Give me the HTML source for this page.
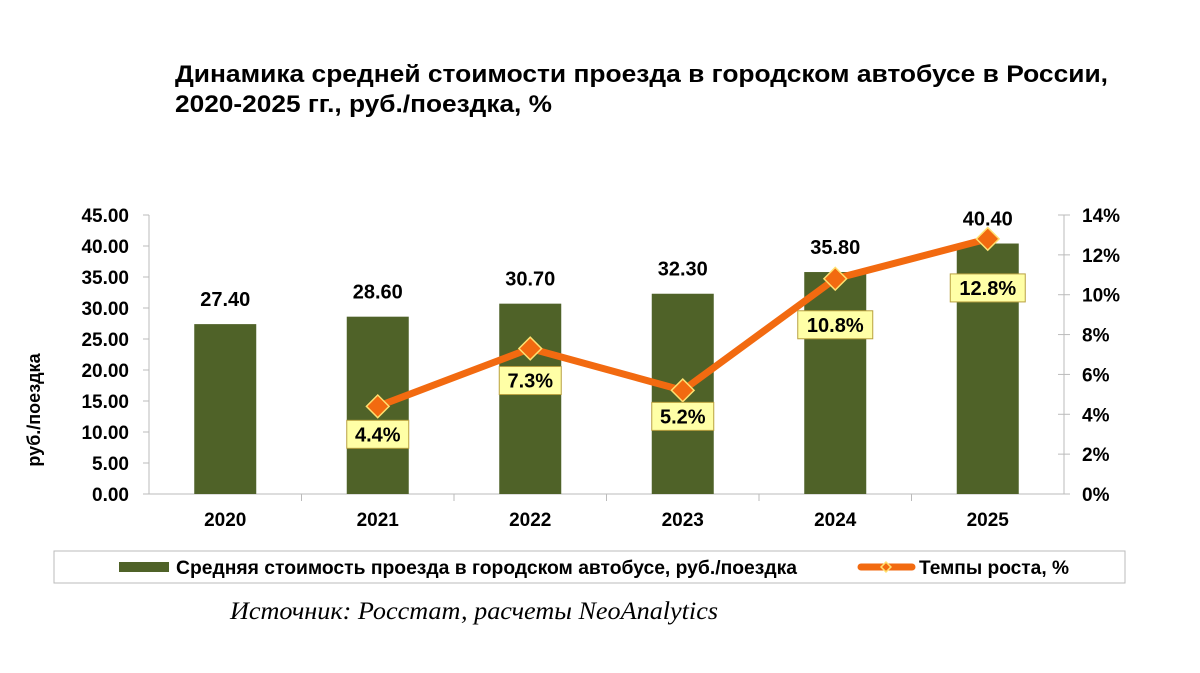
<!DOCTYPE html>
<html><head><meta charset="utf-8"><style>
body{margin:0;background:#fff;}
svg{display:block;font-family:"Liberation Sans",sans-serif;}
</style></head><body>
<svg id="c" width="1200" height="673">
<text x="175" y="82" font-size="24" font-weight="bold" fill="#000" textLength="933" lengthAdjust="spacingAndGlyphs">Динамика средней стоимости проезда в городском автобусе в России,</text>
<text x="175" y="112" font-size="24" font-weight="bold" fill="#000" textLength="377" lengthAdjust="spacingAndGlyphs">2020-2025 гг., руб./поездка, %</text>
<text transform="translate(40,410) rotate(-90)" text-anchor="middle" font-size="18" font-weight="bold">руб./поездка</text>
<g id="g"></g>
<rect x="54" y="551" width="1071" height="32" fill="#fff" stroke="#bbb"/>
<rect x="119" y="562" width="50" height="10" fill="#4f6228"/>
<text x="176" y="574" font-size="19" font-weight="bold" textLength="621" lengthAdjust="spacingAndGlyphs">Средняя стоимость проезда в городском автобусе, руб./поездка</text>
<line x1="861" y1="567" x2="912" y2="567" stroke="#f26a10" stroke-width="7" stroke-linecap="round"/>
<rect x="882.5" y="563.5" width="7" height="7" fill="#f26a10" stroke="#ffe070" stroke-width="1.5" transform="rotate(45 886 567)"/>
<text x="919" y="574" font-size="19" font-weight="bold" textLength="150" lengthAdjust="spacingAndGlyphs">Темпы роста, %</text>
<text x="230" y="619" font-size="25" font-style="italic" font-family="Liberation Serif,serif" textLength="488" lengthAdjust="spacingAndGlyphs">Источник: Росстат, расчеты NeoAnalytics</text>
</svg>
<script>
const categories=["2020","2021","2022","2023","2024","2025"];
const costValues=[27.4,28.6,30.7,32.3,35.8,40.4];
const growthValues=[null,4.4,7.3,5.2,10.8,12.8];
const leftTicks=[0,5,10,15,20,25,30,35,40,45];
const rightTicks=[0,2,4,6,8,10,12,14];
const labelOffsets=[0,28,32,26,46,49];
const NS="http://www.w3.org/2000/svg";
const g=document.getElementById('g');
const X0=149,X1=1064,Y0=494,Y1=215;
const step=(X1-X0)/categories.length;
const xc=i=>X0+step*(i+0.5);
const yL=v=>Y0-(v/45)*(Y0-Y1);
const yR=v=>Y0-(v/14)*(Y0-Y1);
function mk(t,a,txt){const e=document.createElementNS(NS,t);for(const k in a)e.setAttribute(k,a[k]);if(txt!==undefined)e.textContent=txt;g.appendChild(e);return e;}
let e;
e=mk('line',{x1:X0,y1:Y1,x2:X0,y2:Y0,stroke:'#bbb'});


e=mk('line',{x1:X1,y1:Y1,x2:X1,y2:Y0,stroke:'#bbb'});


e=mk('line',{x1:X0,y1:Y0,x2:X1,y2:Y0,stroke:'#bbb'});


leftTicks.forEach(v=>{
 mk('line',{x1:X0-6,y1:yL(v),x2:X0,y2:yL(v),stroke:'#bbb'});
 e=mk('text',{x:X0-20,y:yL(v)+7,'text-anchor':'end','font-size':19,'font-weight':'bold'},v.toFixed(2));
 
 
});
rightTicks.forEach(v=>{
 mk('line',{x1:X1-6,y1:yR(v),x2:X1+6,y2:yR(v),stroke:'#bbb'});
 e=mk('text',{x:X1+18,y:yR(v)+7,'font-size':19,'font-weight':'bold'},v+'%');
 
 
});
for(let i=1;i<categories.length;i++)mk('line',{x1:X0+step*i,y1:Y0,x2:X0+step*i,y2:Y0+7,stroke:'#bbb'});
categories.forEach((c,i)=>{
 const bw=62,v=costValues[i];
 e=mk('rect',{x:xc(i)-bw/2,y:yL(v),width:bw,height:Y0-yL(v),fill:'#4f6228'});
 
 
 e=mk('text',{x:xc(i),y:yL(v)-18,'text-anchor':'middle','font-size':20,'font-weight':'bold'},v.toFixed(2));
 
 
 e=mk('text',{x:xc(i),y:Y0+32,'text-anchor':'middle','font-size':19,'font-weight':'bold'},c);
 
 
});
const pts=[];growthValues.forEach((v,i)=>{if(v!==null)pts.push([xc(i),yR(v),v,i]);});
e=mk('polyline',{points:pts.map(p=>p[0]+','+p[1]).join(' '),fill:'none',stroke:'#f26a10','stroke-width':7,'stroke-linejoin':'round'});


pts.forEach(p=>{
 e=mk('rect',{x:p[0]-8,y:p[1]-8,width:16,height:16,fill:'#f26a10',stroke:'#ffe070','stroke-width':1.5,transform:`rotate(45 ${p[0]} ${p[1]})`});
 
 
 const t=p[2].toFixed(1)+'%',w=t.length*13+10,cy=p[1]+labelOffsets[p[3]];
 e=mk('rect',{x:p[0]-w/2,y:cy-14,width:w,height:28,fill:'#ffffa6',stroke:'#b8a040'});
 
 
 e=mk('text',{x:p[0],y:cy+7,'text-anchor':'middle','font-size':20,'font-weight':'bold'},t);
 
 
});
</script>
</body></html>
